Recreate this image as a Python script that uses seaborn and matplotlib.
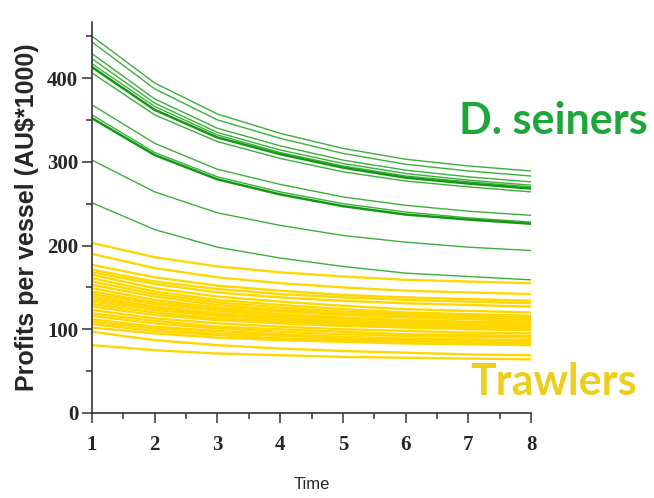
import matplotlib
matplotlib.use("Agg")
import matplotlib.pyplot as plt
from matplotlib.ticker import MultipleLocator
import numpy as np
import pandas as pd
import seaborn as sns

# --- data (profits per vessel, AU$*1000) ---
time = [1, 2, 3, 4, 5, 6, 7, 8]

seiners = [
    [450, 394, 357, 334, 316, 303, 295, 289],
    [443, 387, 350, 328, 310, 297, 289, 283],
    [429, 375, 340, 319, 302, 290, 282, 276],
    [423, 370, 335, 314, 298, 286, 278, 272],
    [417, 366, 332, 311, 295, 283, 276, 270],
    [413, 362, 329, 309, 293, 281, 274, 268],
    [406, 356, 324, 304, 288, 277, 270, 264],
    [368, 322, 291, 273, 258, 248, 241, 236],
    [356, 311, 282, 264, 250, 240, 233, 228],
    [352, 308, 279, 261, 247, 237, 231, 226],
    [302, 264, 239, 224, 212, 204, 198, 194],
    [251, 219, 198, 185, 175, 167, 163, 159],
]
# darker / thicker seiner lines
seiner_thick = [5, 9]

trawlers = [
    [203, 186, 175, 168, 163, 159, 157, 155],
    [190, 173, 162, 155, 150, 146, 144, 142],
    [177, 162, 152, 146, 141, 138, 136, 134],
    [171, 157, 148, 142, 138, 135, 133, 131],
    [168, 154, 144, 138, 134, 131, 129, 127],
    [165, 149, 139, 133, 128, 124, 122, 120],
    [161, 145, 135, 129, 124, 120, 118, 116],
    [157, 142, 132, 126, 121, 118, 116, 114],
    [153, 139, 129, 123, 119, 116, 114, 112],
    [149, 135, 126, 121, 117, 114, 112, 110],
    [145, 132, 124, 118, 114, 111, 109, 108],
    [142, 130, 122, 117, 113, 110, 108, 107],
    [139, 127, 119, 115, 111, 108, 106, 105],
    [136, 125, 117, 113, 109, 107, 105, 104],
    [133, 123, 116, 111, 108, 106, 104, 103],
    [130, 120, 113, 109, 106, 104, 102, 101],
    [127, 117, 111, 107, 104, 102, 100, 99],
    [123, 113, 107, 103, 100, 98, 96, 95],
    [119, 110, 103, 100, 97, 94, 93, 92],
    [116, 107, 101, 97, 94, 92, 91, 90],
    [112, 103, 98, 94, 91, 89, 88, 87],
    [109, 101, 95, 92, 89, 87, 86, 85],
    [106, 98, 93, 89, 87, 85, 84, 83],
    [102, 95, 90, 87, 85, 83, 82, 81],
    [97, 87, 81, 77, 74, 72, 70, 69],
    [81, 75, 71, 69, 67, 66, 65, 64],
]

rows = []
for i, vals in enumerate(seiners):
    kind = "seiner_thick" if i in seiner_thick else "seiner"
    for t, v in zip(time, vals):
        rows.append({"time": t, "profit": v, "vessel": f"s{i}", "kind": kind})
for i, vals in enumerate(trawlers):
    for t, v in zip(time, vals):
        rows.append({"time": t, "profit": v, "vessel": f"t{i}", "kind": "trawler"})
df = pd.DataFrame(rows)

sns.set_style("ticks")
plt.rcParams["font.family"] = ["Liberation Sans", "DejaVu Sans"]

fig = plt.figure(figsize=(6.54, 4.98), dpi=100)
ax = fig.add_axes([0.1407, 0.1707, 0.812 - 0.1407, 0.956 - 0.1707])

palette = {"trawler": "#FFD700", "seiner": "#3CAF3C", "seiner_thick": "#119A11"}
sizes = {"trawler": 1.7, "seiner": 1.0, "seiner_thick": 1.8}
sns.lineplot(data=df, x="time", y="profit", hue="kind", units="vessel",
             estimator=None, palette=palette, size="kind", sizes=sizes,
             legend=False, ax=ax)

ax.set_xlim(1, 8)
ax.set_ylim(0, 467)
sns.despine(ax=ax)
for s in ["left", "bottom"]:
    ax.spines[s].set_color("#333333")
    ax.spines[s].set_linewidth(1.2)

ax.xaxis.set_major_locator(MultipleLocator(1))
ax.xaxis.set_minor_locator(MultipleLocator(0.5))
ax.yaxis.set_major_locator(MultipleLocator(100))
ax.yaxis.set_minor_locator(MultipleLocator(50))
ax.tick_params(axis="both", which="major", length=7, width=1.1, color="#333333")
ax.tick_params(axis="both", which="minor", length=4, width=1.1, color="#333333")
ax.tick_params(axis="x", which="major", pad=9)
ax.tick_params(axis="y", which="major", pad=3)
for lab in ax.get_xticklabels() + ax.get_yticklabels():
    lab.set_family(["Liberation Serif", "DejaVu Serif"])
    lab.set_fontweight("bold")
    lab.set_fontsize(15)

ax.set_xlabel("Time", fontsize=12, family=["Liberation Sans Narrow", "Liberation Sans"],
              labelpad=16)
ax.set_ylabel("Profits per vessel (AU$*1000)", fontsize=18, fontweight="bold",
              labelpad=6)

ax.text(8.36, 349, "D. seiners", color="#1DA63A", fontsize=31, fontweight="bold",
        family=["Lato", "Open Sans"], ha="center", va="center", clip_on=False)
ax.text(8.36, 37, "Trawlers", color="#EDCE1C", fontsize=31, fontweight="bold",
        family=["Lato", "Open Sans"], ha="center", va="center", clip_on=False)

fig.savefig("out.png", dpi=100)
